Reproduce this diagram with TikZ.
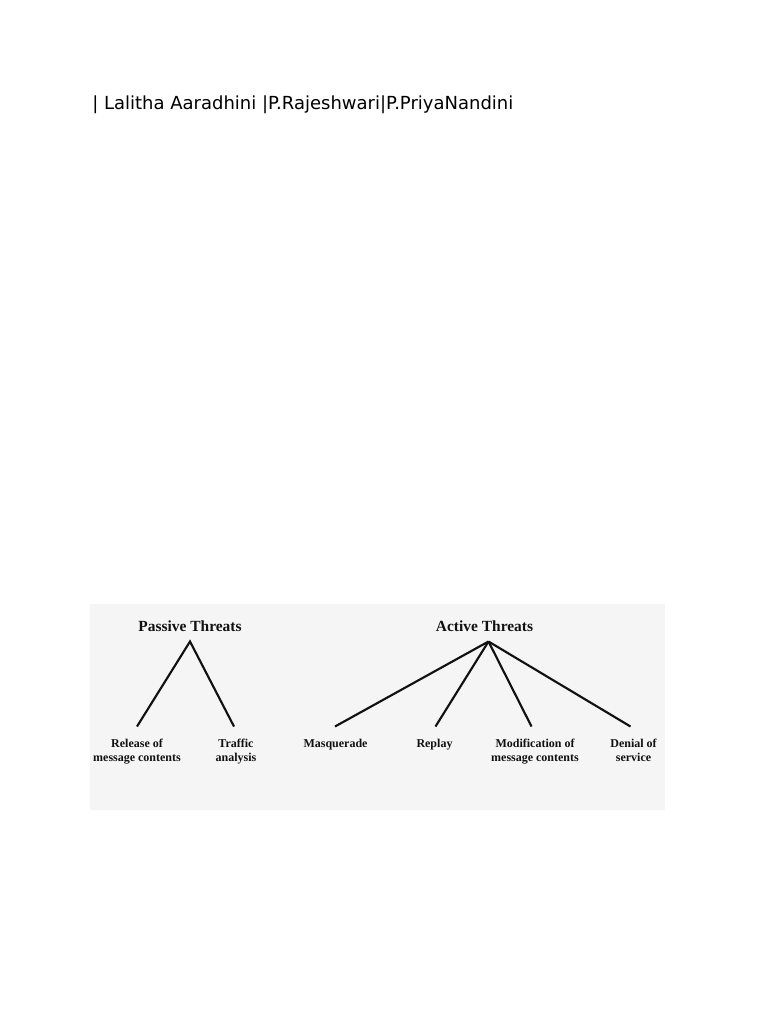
\documentclass[tikz,border=0pt]{standalone}
\usepackage{fontspec}
\setmainfont{Liberation Serif}
\newfontfamily\hdrfont{DejaVu Sans}
\definecolor{panel}{HTML}{F5F5F5}
\definecolor{ink}{HTML}{111111}
\begin{document}
\begin{tikzpicture}[x=0.75pt,y=-0.75pt,
  title/.style={font=\fontsize{11.6}{13}\selectfont\bfseries, text=ink, inner sep=0pt},
  leaf/.style={font=\fontsize{9}{10.5}\selectfont\bfseries, text=ink, align=center, inner sep=0pt, anchor=north},
  branch/.style={draw=ink, line width=1.6pt}]
\useasboundingbox (0,0) rectangle (768,1024);
\fill[white] (0,0) rectangle (768,1024);
\node[anchor=west, inner sep=0pt, font=\hdrfont\fontsize{13.5}{16}\selectfont, text=black] (hdr) at (92,105) {| Lalitha Aaradhini |P.Rajeshwari|P.PriyaNandini};
\fill[panel] (90,604) rectangle (665,810);
% passive
\node[title] (pt) at (190,626) {Passive Threats};
\coordinate (pa) at (190,641.5);
\node[leaf] (rel) at (137,738.5) {Release of\\message contents};
\node[leaf] (tra) at (236,738.5) {Traffic\\analysis};
\coordinate (relt) at (137,726.5);
\coordinate (trat) at (234,726.5);
\draw[branch] (relt) -- (pa) -- (trat);
% active
\node[title] (at) at (484.5,626) {Active Threats};
\coordinate (aa) at (488.5,641.5);
\node[leaf] (mas) at (335.5,738.5) {Masquerade};
\node[leaf] (rep) at (434.5,738.5) {Replay};
\node[leaf] (mod) at (535,738.5) {Modification of\\message contents};
\node[leaf] (den) at (633.5,738.5) {Denial of\\service};
\coordinate (mast) at (335,726.5);
\coordinate (rept) at (435.5,726.5);
\coordinate (modt) at (531.5,726.5);
\coordinate (dent) at (630.5,726.5);
\draw[branch] (mast) -- (aa);
\draw[branch] (rept) -- (aa);
\draw[branch] (modt) -- (aa);
\draw[branch] (dent) -- (aa);
\end{tikzpicture}
\end{document}
